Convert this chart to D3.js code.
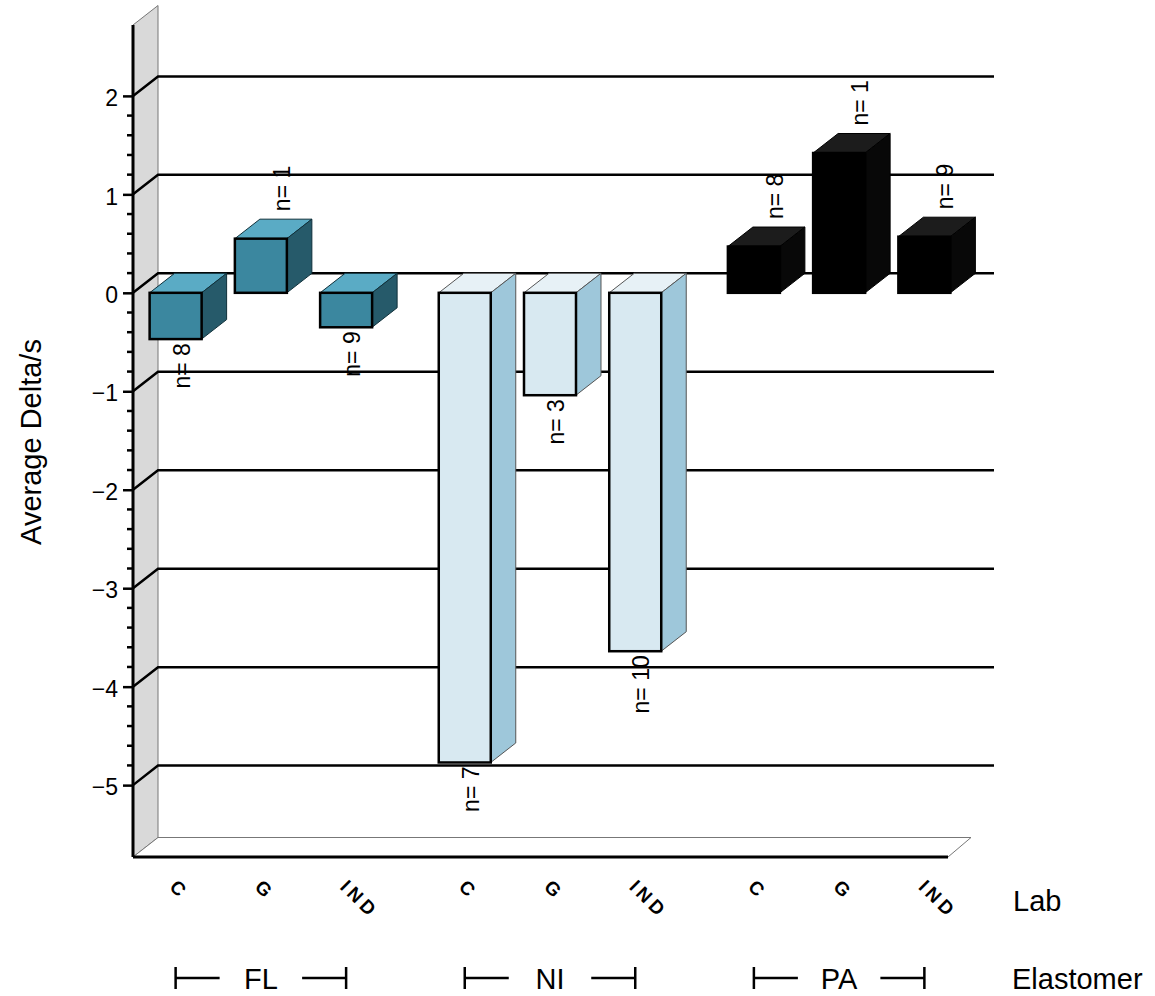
<!DOCTYPE html>
<html lang="en">
<head>
    <meta charset="UTF-8">
    <title>Average Delta/s by Lab and Elastomer</title>
    <script src="https://d3js.org/d3.v7.min.js"></script>
    <style>
        body { margin: 0; background: #fff; }
        svg { display: block; font-family: "Liberation Sans", Arial, Helvetica, sans-serif; }
    </style>
</head>
<body>
    <svg id="chart" width="1155" height="996"></svg>

    <script>
        // data
        const elastomers = ["FL", "NI", "PA"];
        const labs = ["C", "G", "IND"];
        const flValues = [-0.47, 0.55, -0.35];
        const niValues = [-4.77, -1.04, -3.64];
        const paValues = [0.47, 1.42, 0.57];
        const flCounts = [8, 1, 9];
        const niCounts = [7, 3, 10];
        const paCounts = [8, 1, 9];
        const yTicks = [-5, -4, -3, -2, -1, 0, 1, 2];

        const valuesBy = { FL: flValues, NI: niValues, PA: paValues };
        const countsBy = { FL: flCounts, NI: niCounts, PA: paCounts };
        const rows = [];
        elastomers.forEach(function (e) {
            labs.forEach(function (l, i) {
                rows.push({ elastomer: e, lab: l, value: valuesBy[e][i], n: countsBy[e][i] });
            });
        });

        const colors = {
            FL: { front: "#3b879f", top: "#5aabc5", side: "#265a6a", edge: "#000", thin: "#10303a" },
            NI: { front: "#d8e9f1", top: "#e7f1f6", side: "#9ec7da", edge: "#000", thin: "#555" },
            PA: { front: "#000", top: "#1c1c1c", side: "#080808", edge: "#000", thin: "#000" }
        };

        // 3d frame
        const dx = 25, dy = -19.5;          // depth offset
        const axisX = 133, floorY = 857, wallTop = 25;
        const floorRight = 948, gridRight = 994;

        const svg = d3.select("#chart");

        const y = d3.scaleLinear().domain([-5.73, 2.72]).range([floorY, wallTop]);
        const x0 = d3.scaleBand().domain(elastomers).range([133, 967]).paddingInner(0.1155).paddingOuter(0);
        const x1 = d3.scaleBand().domain(labs).range([0, x0.bandwidth()]).paddingInner(0.39).paddingOuter(0.195);

        // left wall
        svg.append("polygon")
            .attr("points", [[axisX, wallTop], [axisX + dx, wallTop + dy], [axisX + dx, floorY + dy], [axisX, floorY]].join(" "))
            .attr("fill", "#d9d9d9").attr("stroke", "#777").attr("stroke-width", 1);

        // floor
        svg.append("polygon")
            .attr("points", [[axisX, floorY], [axisX + dx, floorY + dy], [floorRight + dx - 2, floorY + dy], [floorRight, floorY]].join(" "))
            .attr("fill", "#fff").attr("stroke", "#777").attr("stroke-width", 1);
        svg.append("line")
            .attr("x1", axisX).attr("x2", floorRight)
            .attr("y1", floorY).attr("y2", floorY)
            .attr("stroke", "#000").attr("stroke-width", 3);

        // grid lines on the back plane + their trace on the wall
        const grid = svg.append("g").attr("stroke", "#000").attr("stroke-width", 2.5).attr("fill", "none");
        grid.selectAll("path").data(yTicks).join("path")
            .attr("d", function (d) {
                return "M" + axisX + "," + y(d) + "L" + (axisX + dx) + "," + (y(d) + dy) + "H" + gridRight;
            });

        // front axis with ticks
        svg.append("line")
            .attr("x1", axisX).attr("x2", axisX)
            .attr("y1", wallTop).attr("y2", floorY)
            .attr("stroke", "#000").attr("stroke-width", 3);

        const minor = d3.range(-25, 11).map(function (k) { return k / 5; })
            .filter(function (v) { return Math.abs(v - Math.round(v)) > 1e-6; });
        svg.append("g").selectAll("line").data(minor).join("line")
            .attr("x1", axisX - 6).attr("x2", axisX)
            .attr("y1", function (d) { return y(d); }).attr("y2", function (d) { return y(d); })
            .attr("stroke", "#000").attr("stroke-width", 2.5);

        const yAxis = d3.axisLeft(y).tickValues(yTicks).tickSize(10).tickPadding(5);
        const ya = svg.append("g")
            .attr("transform", "translate(" + axisX + ",0)")
            .call(yAxis);
        ya.select(".domain").remove();
        ya.selectAll(".tick line").attr("stroke-width", 2.5);
        ya.selectAll(".tick text")
            .attr("font-size", 23)
            .attr("font-family", "Liberation Sans, Arial, sans-serif")
            .attr("dy", "0.42em")
            .attr("fill", "#000");

        svg.append("text")
            .attr("transform", "translate(41,442) rotate(-90)")
            .attr("text-anchor", "middle")
            .attr("font-size", 29)
            .text("Average Delta/s");

        // bars
        const bars = svg.append("g").selectAll("g").data(rows).join("g");

        bars.each(function (d) {
            const g = d3.select(this);
            const c = colors[d.elastomer];
            const xl = x0(d.elastomer) + x1(d.lab);
            const xr = xl + x1.bandwidth();
            const yt = y(Math.max(0, d.value));
            const yb = y(Math.min(0, d.value));

            // top face
            g.append("polygon")
                .attr("points", [[xl, yt], [xl + dx, yt + dy], [xr + dx, yt + dy], [xr, yt]].join(" "))
                .attr("fill", c.top).attr("stroke", c.thin).attr("stroke-width", 1);
            // side face
            g.append("polygon")
                .attr("points", [[xr, yt], [xr + dx, yt + dy], [xr + dx, yb + dy], [xr, yb]].join(" "))
                .attr("fill", c.side).attr("stroke", c.thin).attr("stroke-width", 1);
            // front face
            g.append("rect")
                .attr("x", xl).attr("y", yt)
                .attr("width", xr - xl).attr("height", yb - yt)
                .attr("fill", c.front).attr("stroke", c.edge).attr("stroke-width", 2.5);

            // n= label
            const cx = (xl + xr) / 2;
            const neg = d.value < 0;
            const lx = neg ? cx + 6 : cx + 21;
            const ly = neg ? yb + 4 : yt + dy - 8;
            g.append("text")
                .attr("transform", "translate(" + lx + "," + ly + ") rotate(-90)")
                .attr("text-anchor", neg ? "end" : "start")
                .attr("dy", "0.35em")
                .attr("font-size", 23)
                .attr("fill", "#000")
                .text("n= " + d.n);
        });

        // lab tick labels
        svg.append("g").selectAll("text").data(rows).join("text")
            .attr("transform", function (d) {
                const cx = x0(d.elastomer) + x1(d.lab) + x1.bandwidth() / 2;
                return "translate(" + (cx - 7) + ",888) rotate(45)";
            })
            .attr("font-size", 19)
            .attr("font-weight", "bold")
            .attr("letter-spacing", 4)
            .text(function (d) { return d.lab; });

        // elastomer brackets
        const br = svg.append("g").selectAll("g").data(elastomers).join("g");
        br.each(function (e) {
            const g = d3.select(this);
            const a = x0(e) + x1(labs[0]) + x1.bandwidth() / 2;
            const b = x0(e) + x1(labs[labs.length - 1]) + x1.bandwidth() / 2;
            const by = 978;
            g.append("path")
                .attr("d", "M" + a + "," + (by - 11) + "V" + (by + 11) + "M" + a + "," + by + "h44"
                    + "M" + b + "," + (by - 11) + "V" + (by + 11) + "M" + b + "," + by + "h-44")
                .attr("stroke", "#000").attr("stroke-width", 2.5).attr("fill", "none");
            g.append("text")
                .attr("x", (a + b) / 2).attr("y", 989)
                .attr("text-anchor", "middle")
                .attr("font-size", 29)
                .text(e);
        });

        svg.append("text").attr("x", 1013).attr("y", 911).attr("font-size", 29).text("Lab");
        svg.append("text").attr("x", 1012).attr("y", 989).attr("font-size", 29).text("Elastomer");
    </script>
</body>
</html>
